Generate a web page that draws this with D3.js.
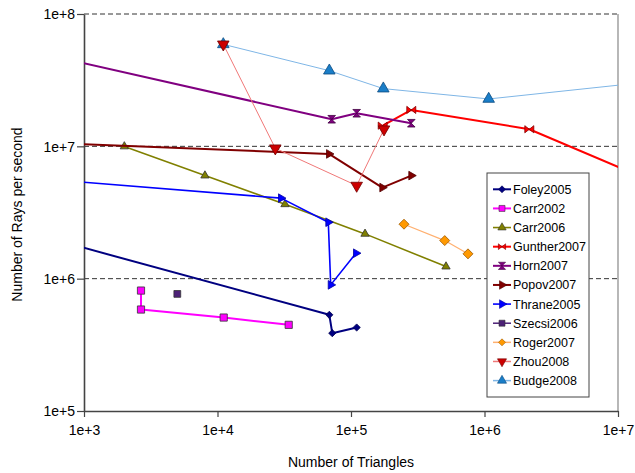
<!DOCTYPE html>
<html><head><meta charset="utf-8">
<script src="https://cdn.jsdelivr.net/npm/d3@7"></script>
<style>body{margin:0;background:#fff}svg{display:block;font-family:"Liberation Sans",Arial,sans-serif}</style>
</head><body><svg id="c" width="635" height="473"></svg>
<script>
const seriesNames = ["Foley2005","Carr2002","Carr2006","Gunther2007","Horn2007","Popov2007","Thrane2005","Szecsi2006","Roger2007","Zhou2008","Budge2008"];
const foley2005 = [[500,2.07e6],[68800,533000],[72400,387500],[110300,427500]];
const carr2002 = [[2673,813000],[2673,584500],[11130,508400],[34150,447800]];
const carr2006 = [[2005,9.98e6],[8054,6.01e6],[32030,3.65e6],[127400,2.18e6],[514800,1.234e6]];
const gunther2007 = [[172800,1.433e7],[282900,1.884e7],[2166000,1.346e7],[2e7,5.2e6]];
const horn2007 = [[500,4.97e7],[71700,1.602e7],[110300,1.778e7],[282900,1.495e7]];
const popov2007 = [[500,1.066e7],[68430,8.76e6],[171600,4.88e6],[282900,6.01e6]];
const thrane2005 = [[500,5.67e6],[29900,4.06e6],[67600,2.67e6],[70470,897600],[109000,1.558e6]];
const szecsi2006 = [[5000,767000]];
const roger2007 = [[249500,2.58e6],[503600,1.94e6],[752000,1.54e6]];
const zhou2008 = [[11050,5.9e7],[27100,9.67e6],[110300,5.05e6],[176700,1.346e7]];
const budge2008 = [[11050,5.9e7],[68800,3.73e7],[174600,2.73e7],[1075000,2.28e7],[2e7,3.12e7]];
const xTicks = [1e3,1e4,1e5,1e6,1e7];
const yTicks = [1e5,1e6,1e7,1e8];
const tickLabel = v => "1e+" + Math.round(Math.log10(v));

const styles = [
  {line:"#000080", w:2, fill:"#000080", stroke:"#000050", shape:"diamond", size:3.6},
  {line:"#ff00ff", w:2, fill:"#ff00ff", stroke:"#333", shape:"square", size:52},
  {line:"#808000", w:1.6, fill:"#808000", stroke:"#333", shape:"tri", size:30},
  {line:"#ff0000", w:2, fill:"#ff0000", stroke:"#800000", shape:"bowtie", size:4.5},
  {line:"#800080", w:2, fill:"#800080", stroke:"#400040", shape:"hourglass", size:3.8},
  {line:"#800000", w:2, fill:"#800000", stroke:"#500000", shape:"triR", size:32},
  {line:"#0000ff", w:1.6, fill:"#0000ff", stroke:"#0000a0", shape:"triR", size:32},
  {line:"#4d2177", w:1.5, fill:"#4d2177", stroke:"#333", shape:"square", size:46},
  {line:"#ffb070", w:1.2, fill:"#ff9900", stroke:"#a05a00", shape:"diamond", size:5},
  {line:"#f07878", w:1, fill:"#cc0000", stroke:"#700000", shape:"triD", size:58},
  {line:"#7fb6e6", w:1, fill:"#1a7ec8", stroke:"#0b4a80", shape:"tri", size:58}
];
const data = [foley2005,carr2002,carr2006,gunther2007,horn2007,popov2007,thrane2005,szecsi2006,roger2007,zhou2008,budge2008];
const drawOrder = [0,1,2,3,4,5,6,7,8,10,9];

const svg = d3.select("#c");
const L=84,R=618,T=14,B=411;
const x = d3.scaleLog().domain([1e3,1e7]).range([L,R]);
const y = d3.scaleLog().domain([1e5,1e8]).range([B,T]);

svg.append("g").selectAll("line").data([1e6,1e7,1e8]).join("line")
  .attr("x1",L).attr("x2",R).attr("y1",d=>y(d)).attr("y2",d=>y(d))
  .attr("stroke","#333").attr("stroke-width",1).attr("stroke-dasharray","5,3");
svg.append("line").attr("x1",R).attr("x2",R).attr("y1",T).attr("y2",B).attr("stroke","#888").attr("stroke-width",1.2);

const xAxis = svg.append("g").attr("transform",`translate(0,${B})`)
  .call(d3.axisBottom(x).tickValues(xTicks).tickFormat(tickLabel).tickSize(6).tickSizeOuter(0));
const yAxis = svg.append("g").attr("transform",`translate(${L},0)`)
  .call(d3.axisLeft(y).tickValues(yTicks).tickFormat(tickLabel).tickSize(7).tickSizeOuter(0));
[xAxis,yAxis].forEach(a=>{
  a.select(".domain").attr("stroke","#444").attr("stroke-width",1.6);
  a.selectAll(".tick line").attr("stroke","#444").attr("stroke-width",1.2);
  a.selectAll("text").attr("font-size",14).attr("font-family","Liberation Sans, Arial, sans-serif").attr("fill","#000");
});
xAxis.selectAll("text").attr("dy","1.05em");
yAxis.selectAll("text").attr("x",-9).attr("dy","0.35em");

svg.append("text").attr("x",(L+R)/2).attr("y",467).attr("text-anchor","middle").attr("font-size",14).text("Number of Triangles");
svg.append("text").attr("transform",`translate(22,${(T+B)/2+2}) rotate(-90)`).attr("text-anchor","middle").attr("font-size",14).text("Number of Rays per second");

svg.append("defs").append("clipPath").attr("id","clip").append("rect").attr("x",L).attr("y",T-6).attr("width",R-L).attr("height",B-T+6);

function markerPath(shape,size){
  const s=size;
  if(shape==="diamond") return `M0,${-s}L${s},0L0,${s}L${-s},0Z`;
  if(shape==="square") return d3.symbol(d3.symbolSquare,size)();
  if(shape==="tri"||shape==="triD"||shape==="triR") return d3.symbol(d3.symbolTriangle,size)();
  if(shape==="bowtie") return `M${-s},${-s*0.8}L0,0L${-s},${s*0.8}ZM${s},${-s*0.8}L0,0L${s},${s*0.8}Z`;
  if(shape==="hourglass") return `M${-s},${-s}L${s},${-s}L0,0ZM${-s},${s}L${s},${s}L0,0Z`;
}
function markerRot(shape){ return shape==="triD"?180:shape==="triR"?90:0; }

const plot = svg.append("g").attr("clip-path","url(#clip)");
const line = d3.line().x(d=>x(d[0])).y(d=>y(d[1]));
drawOrder.forEach(i=>{
  const ser=data[i], st=styles[i];
  const g=plot.append("g");
  if(ser.length>1) g.append("path").attr("d",line(ser)).attr("fill","none").attr("stroke",st.line).attr("stroke-width",st.w).attr("stroke-linejoin","round");
  g.selectAll("path.m").data(ser).join("path").attr("class","m")
    .attr("d",markerPath(st.shape,st.size))
    .attr("transform",d=>`translate(${x(d[0])},${y(d[1])}) rotate(${markerRot(st.shape)})`)
    .attr("fill",st.fill).attr("stroke",st.stroke).attr("stroke-width",0.8);
});

const lg = svg.append("g");
lg.append("rect").attr("x",487).attr("y",173).attr("width",102).attr("height",224).attr("fill","#fff").attr("stroke","#444").attr("stroke-width",1);
seriesNames.forEach((n,i)=>{
  const st=styles[i], yy=189.3+i*19.13;
  lg.append("line").attr("x1",493).attr("x2",511).attr("y1",yy).attr("y2",yy).attr("stroke",st.line).attr("stroke-width",Math.max(st.w,1.5));
  let sz = st.size;
  if(st.shape==="bowtie"||st.shape==="hourglass") sz=3.6;
  else if(st.shape==="diamond") sz=3.5;
  else sz=Math.min(st.size,36);
  lg.append("path").attr("d",markerPath(st.shape,sz)).attr("transform",`translate(502,${yy}) rotate(${markerRot(st.shape)})`)
    .attr("fill",st.fill).attr("stroke",st.stroke).attr("stroke-width",0.6);
  lg.append("text").attr("x",513).attr("y",yy).attr("dy","0.36em").attr("font-size",12.5).text(n);
});
</script></body></html>
